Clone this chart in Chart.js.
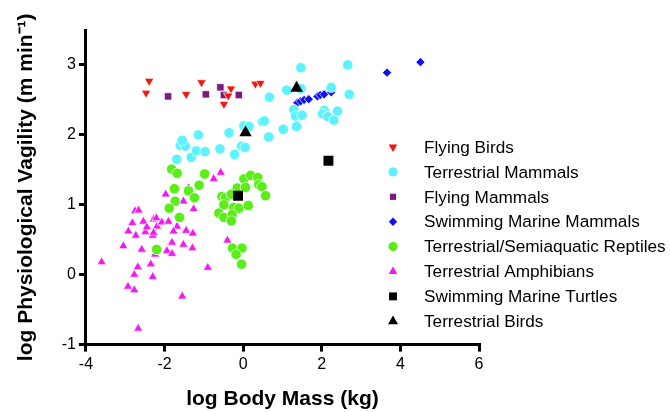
<!DOCTYPE html>
<html>
<head>
<meta charset="utf-8">
<script src="https://cdn.jsdelivr.net/npm/chart.js@4.4.0/dist/chart.umd.min.js"></script>
<style>
  html, body { margin: 0; padding: 0; background: #fff; }
  #wrap { width: 670px; height: 412px; }
</style>
</head>
<body>
<div id="wrap"><canvas id="chart" width="670" height="412"></canvas></div>
<script>
// values: [log body mass, log vagility]
const seriesNames = [
  'Flying Birds', 'Terrestrial Mammals', 'Flying Mammals', 'Swimming Marine Mammals',
  'Terrestrial/Semiaquatic Reptiles', 'Terrestrial Amphibians', 'Swimming Marine Turtles', 'Terrestrial Birds'
];

const flyingBirds = [
  [-2.39, 2.77], [-2.47, 2.60], [-1.45, 2.58], [-1.06, 2.75], [-0.31, 2.66],
  [-0.38, 2.56], [-0.49, 2.44], [0.31, 2.73], [0.44, 2.74]
];

const terrestrialMammals = [
  [-1.69, 1.65], [-1.32, 1.68], [-1.60, 1.85], [-1.47, 1.84], [-1.55, 1.92],
  [-1.19, 1.77], [-0.97, 1.76], [-1.14, 2.00], [-0.59, 1.80], [-0.36, 2.03],
  [-0.22, 1.72], [-0.04, 1.84], [0.05, 1.82], [0.02, 2.13], [0.15, 2.12],
  [0.49, 2.19], [0.54, 2.20], [0.65, 1.97], [1.02, 2.08], [0.67, 2.54],
  [1.11, 2.64], [1.47, 2.66], [1.47, 2.96], [2.66, 3.00], [2.24, 2.68],
  [2.70, 2.58], [1.29, 2.36], [1.33, 2.27], [1.50, 2.28], [2.06, 2.35],
  [2.02, 2.30], [2.15, 2.26], [2.31, 2.21], [2.40, 2.34], [1.36, 2.12]
];

const flyingMammals = [
  [-1.91, 2.55], [-0.95, 2.58], [-0.58, 2.68], [-0.49, 2.57], [-0.11, 2.57]
];

const marineMammals = [
  [1.38, 2.46], [1.46, 2.48], [1.55, 2.50], [1.67, 2.51], [1.89, 2.55],
  [1.96, 2.57], [2.06, 2.58], [2.24, 2.61], [3.66, 2.89], [4.51, 3.04]
];

const reptiles = [
  [-1.82, 1.51], [-1.68, 1.45], [-0.98, 1.44], [-1.12, 1.28], [-1.75, 1.23],
  [-1.39, 1.20], [-1.24, 1.10], [-1.73, 1.05], [-1.88, 0.95], [-1.62, 0.82],
  [-2.20, 0.36], [0.02, 1.37], [0.19, 1.42], [0.37, 1.39], [0.40, 1.29],
  [0.48, 1.26], [0.57, 1.13], [-0.15, 1.24], [0.06, 1.25], [-0.54, 1.12],
  [-0.45, 1.10], [-0.30, 1.15], [-0.49, 1.00], [-0.24, 0.96], [-0.11, 0.95],
  [0.13, 0.99], [-0.62, 0.88], [-0.49, 0.82], [-0.28, 0.86], [-0.30, 0.77],
  [-0.27, 0.38], [-0.03, 0.38], [-0.18, 0.29], [-0.04, 0.15]
];

const amphibians = [
  [-3.60, 0.18], [-2.75, 0.91], [-2.66, 0.92], [-2.82, 0.74], [-2.92, 0.62],
  [-2.73, 0.56], [-3.05, 0.41], [-2.54, 0.76], [-2.49, 0.61], [-2.28, 0.79],
  [-2.21, 0.81], [-2.19, 0.69], [-2.30, 0.56], [-2.28, 0.60], [-2.07, 0.75],
  [-1.90, 0.76], [-2.45, 0.68], [-1.97, 1.15], [-1.39, 1.24], [-1.52, 1.05],
  [-1.26, 0.94], [-1.68, 0.69], [-1.45, 0.63], [-1.28, 0.59], [-1.81, 0.46],
  [-1.52, 0.43], [-1.29, 0.38], [-2.58, 0.36], [-1.94, 0.34], [-1.81, 0.30],
  [-2.24, 0.29], [-2.68, 0.11], [-2.35, 0.15], [-2.77, 0.00], [-2.30, -0.03],
  [-2.93, -0.17], [-2.77, -0.22], [-1.55, -0.31], [-0.90, 0.10], [-0.57, 1.46],
  [-0.75, 1.37], [-0.40, 0.49], [-2.67, -0.77], [-1.77, 0.62]
];

const marineTurtles = [[2.17, 1.63], [-0.13, 1.13]];

const terrestrialBirds = [[1.36, 2.67], [0.06, 2.03]];

const xTicks = [-4, -2, 0, 2, 4, 6];
const yTicks = [-1, 0, 1, 2, 3];

const FONT = "Helvetica, Arial, 'Liberation Sans', sans-serif";

function pts(arr) {
    return arr.map(p => ({ x: p[0], y: p[1] }));
}

// marker look per series: style, colour, radius, rotation, radius used in the legend
const looks = [
    { style: 'triangle', color: '#f5150f', r: 5.4, rot: 180, lr: 5 },
    { style: 'circle', color: '#5ef2fc', r: 5.2, rot: 0, lr: 4.6 },
    { style: 'rect', color: '#7d1a7d', r: 5.2, rot: 0, lr: 4.4 },
    { style: 'rectRot', color: '#1212ee', r: 4.6, rot: 0, lr: 4.2 },
    { style: 'circle', color: '#5aee18', r: 5.2, rot: 0, lr: 4.6 },
    { style: 'triangle', color: '#f419f4', r: 5.3, rot: 0, lr: 5 },
    { style: 'rect', color: '#000000', r: 7, rot: 0, lr: 5.6 },
    { style: 'triangle', color: '#000000', r: 7.2, rot: 0, lr: 5.8 }
];
const allSeries = [flyingBirds, terrestrialMammals, flyingMammals, marineMammals,
    reptiles, amphibians, marineTurtles, terrestrialBirds];

const datasets = allSeries.map((s, i) => ({
    label: seriesNames[i],
    data: pts(s),
    pointStyle: looks[i].style,
    pointRadius: looks[i].r,
    rotation: looks[i].rot,
    backgroundColor: looks[i].color,
    borderColor: i >= 6 ? '#000' : 'rgba(255,255,255,0.9)',
    borderWidth: i >= 6 ? 0 : 0.8,
    order: i >= 6 ? 0 : 1,
    legendRadius: looks[i].lr
}));

// legend drawn at the right, over the chart's edge like the original
const sideLegend = {
    id: 'sideLegend',
    afterDraw(chart) {
        const ctx = chart.ctx;
        ctx.save();
        chart.data.datasets.forEach((ds, i) => {
            const y = 147 + i * 24.9;
            ctx.fillStyle = ds.backgroundColor;
            Chart.helpers.drawPoint(ctx, {
                pointStyle: ds.pointStyle, rotation: ds.rotation, radius: ds.legendRadius, borderWidth: 0
            }, 393, y);
            ctx.fillStyle = '#000';
            ctx.font = '17.2px ' + FONT;
            ctx.textBaseline = 'middle';
            ctx.textAlign = 'left';
            ctx.fillText(ds.label, 424, y + 1);
        });
        ctx.restore();
    }
};

new Chart(document.getElementById('chart'), {
    type: 'scatter',
    data: { datasets: datasets },
    plugins: [sideLegend],
    options: {
        responsive: false,
        animation: false,
        devicePixelRatio: 1,
        events: [],
        layout: { padding: { left: 10, right: 191, top: 30, bottom: 0 } },
        plugins: { legend: { display: false }, tooltip: { enabled: false } },
        scales: {
            x: {
                type: 'linear', min: -4, max: 6,
                afterBuildTicks: scale => { scale.ticks = xTicks.map(v => ({ value: v })); },
                ticks: { color: '#000', font: { family: FONT, size: 16 }, padding: 3 },
                grid: { display: true, drawOnChartArea: false, drawTicks: true, tickLength: 7, color: '#000', lineWidth: 3 },
                border: { display: true, color: '#000', width: 3 },
                title: {
                    display: true, text: 'log Body Mass (kg)', color: '#000',
                    font: { family: FONT, size: 21, weight: 'bold' }, padding: { top: 10, bottom: 0 }
                }
            },
            y: {
                type: 'linear', min: -1, max: 3.5,
                afterBuildTicks: scale => { scale.ticks = yTicks.map(v => ({ value: v })); },
                ticks: { color: '#000', font: { family: FONT, size: 16 }, padding: 3 },
                grid: { display: true, drawOnChartArea: false, drawTicks: true, tickLength: 7, color: '#000', lineWidth: 3 },
                border: { display: true, color: '#000', width: 3 },
                title: {
                    display: true, text: 'log Physiological Vagility (m min\u207B\u00B9)', color: '#000',
                    font: { family: FONT, size: 21, weight: 'bold' }, padding: { top: 4, bottom: 19.5 }
                }
            }
        }
    }
});
</script>
</body>
</html>
